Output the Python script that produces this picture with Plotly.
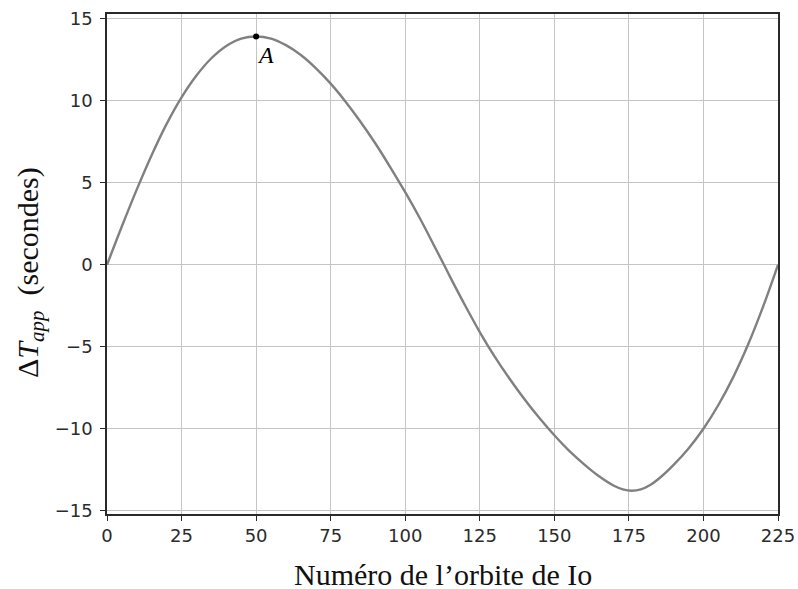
import plotly.graph_objects as go

orbit = [0, 5, 10, 15, 20, 25, 30, 35, 40, 45, 50, 55, 60, 65, 70, 75, 80, 85, 90, 95,
         100, 105, 110, 113, 115, 120, 125, 130, 135, 140, 145, 150, 155, 160, 165, 170,
         173, 176, 179, 182, 185, 190, 195, 200, 205, 210, 215, 220, 225]
delta_t = [0, 2.35, 4.6, 6.7, 8.6, 10.22, 11.55, 12.6, 13.35, 13.8, 13.93, 13.8, 13.4,
           12.8, 12.0, 11.05, 9.95, 8.73, 7.4, 5.95, 4.43, 2.81, 1.06, 0.0, -0.72, -2.45,
           -4.1, -5.6, -6.95, -8.2, -9.35, -10.4, -11.35, -12.17, -12.9, -13.48,
           -13.7, -13.78, -13.7, -13.45, -13.05, -12.2, -11.2, -10.0, -8.55, -6.85, -4.85,
           -2.55, 0.0]
point_a = (50, 13.93)
x_ticks = [0, 25, 50, 75, 100, 125, 150, 175, 200, 225]
y_ticks = [-15, -10, -5, 0, 5, 10, 15]

fig = go.Figure()
fig.add_trace(go.Scatter(x=orbit, y=delta_t, mode="lines",
                         line=dict(color="#808080", width=2.4, shape="spline", smoothing=1.0),
                         hoverinfo="skip", showlegend=False))
fig.add_trace(go.Scatter(x=[point_a[0]], y=[point_a[1]], mode="markers",
                         marker=dict(color="black", size=6), showlegend=False))
fig.add_annotation(x=point_a[0], y=point_a[1], text="<i>A</i>", showarrow=False,
                   xanchor="left", yanchor="top", xshift=-1, yshift=-4,
                   font=dict(family="Liberation Serif", size=24, color="black"))

axis_common = dict(showgrid=True, gridcolor="#c4c4c4", gridwidth=1,
                   showline=True, linecolor="#2a2a2a", linewidth=1.5, mirror=True,
                   ticks="outside", ticklen=5, tickcolor="#2a2a2a", tickwidth=1.2,
                   zeroline=False, automargin=False,
                   tickfont=dict(family="DejaVu Sans", size=18, color="#2b2b2b"))

fig.update_xaxes(range=[0, 225], tickvals=x_ticks, **axis_common)
fig.update_yaxes(range=[-15.2, 15.3], tickvals=y_ticks, ticklabelstandoff=4, **axis_common)

fig.add_annotation(x=0.5, y=0, xref="paper", yref="paper", text="Numéro de l’orbite de Io",
                   showarrow=False, xanchor="center", yanchor="middle", yshift=-60,
                   font=dict(family="Liberation Serif", size=30, color="#111"))
fig.add_annotation(x=0, y=0.5, xref="paper", yref="paper",
                   text="Δ<i>T</i><sub><i>app</i></sub>  (secondes)", textangle=-90,
                   showarrow=False, xanchor="center", yanchor="middle", xshift=-77, yshift=-9,
                   font=dict(family="Liberation Serif", size=30, color="#111"))

fig.update_layout(width=798, height=589, plot_bgcolor="white", paper_bgcolor="white",
                  margin=dict(l=107, r=20, t=14, b=75))
fig.write_html("out.html", config={"displayModeBar": False},
               post_script="document.body.style.margin='0';document.body.style.overflow='hidden';")
